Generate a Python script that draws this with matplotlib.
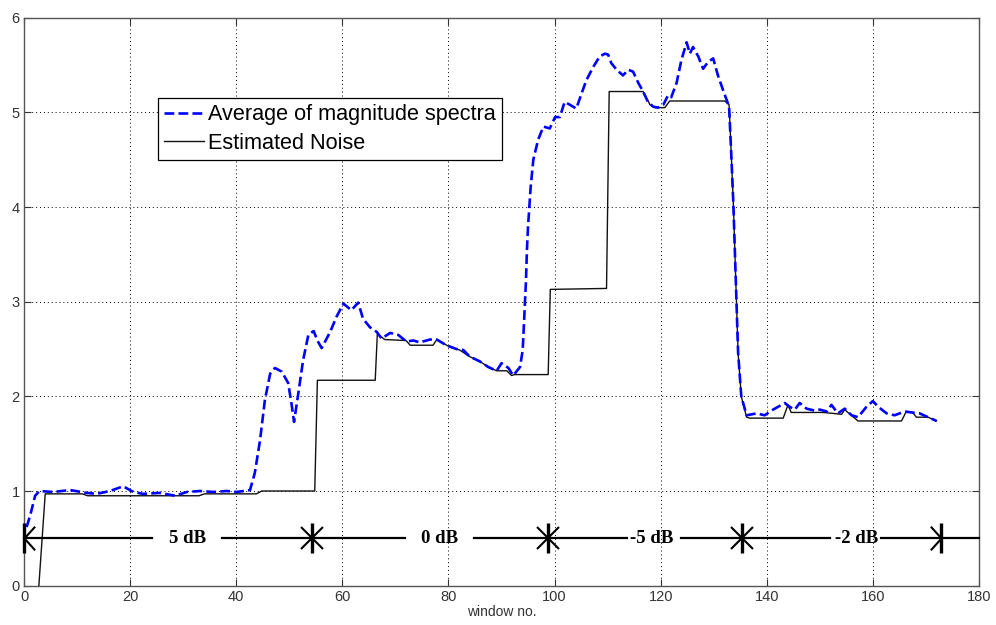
import matplotlib
matplotlib.use("Agg")
import matplotlib.pyplot as plt
from matplotlib.path import Path

# Average of magnitude spectra (blue dashed)
avg_x = [0.5, 1.2, 2.1, 2.9, 5.5, 8.7, 11.8, 13.7, 16.2, 18.7, 20.6, 22.4, 25.6, 28.5, 30.7,
         33.2, 35.7, 38.2, 40.1, 42.6, 43.5, 44.5, 45.4, 46.4, 47.3, 48.6, 49.8, 50.4, 50.9,
         51.7, 52.6, 53.6, 54.6, 55.3, 56.1, 57.7, 58.9, 60.2, 61.7, 63.0, 63.9, 65.2, 66.5,
         67.4, 69.0, 70.5, 72.1, 73.4, 74.6, 76.5, 77.8, 79.6, 81.5, 82.8, 84.0, 85.9, 87.5,
         89.1, 90.0, 91.3, 92.2, 93.5, 94.0, 94.3, 94.6, 94.8, 95.0, 95.5, 96.0, 96.9, 97.9,
         99.1, 100.1, 101.0, 101.9, 102.9, 104.1, 105.1, 106.0, 107.3, 108.5, 109.5, 110.1,
         110.7, 111.7, 112.9, 113.9, 114.8, 115.8, 116.7, 117.6, 118.6, 119.5, 120.5, 121.4,
         122.0, 123.0, 123.9, 124.9, 125.5, 126.1, 127.1, 128.0, 128.9, 129.9, 130.8, 131.8,
         132.9, 133.3, 133.7, 134.0, 134.3, 134.6, 135.2, 136.2, 138.1, 139.6, 141.2, 143.4,
         144.3, 145.3, 146.2, 147.5, 149.0, 150.0, 151.3, 152.2, 153.4, 154.7, 156.0, 157.2,
         158.8, 160.0, 161.0, 162.6, 164.1, 166.0, 167.3, 168.8, 170.4, 172.0]
avg_y = [0.62, 0.75, 0.95, 1.0, 0.99, 1.01, 0.98, 0.97, 1.0, 1.05, 0.99, 0.97, 0.98, 0.95, 0.99,
         1.0, 0.99, 1.0, 0.99, 1.01, 1.19, 1.54, 1.96, 2.24, 2.30, 2.26, 2.14, 1.93, 1.73,
         2.03, 2.38, 2.65, 2.69, 2.59, 2.51, 2.68, 2.84, 2.98, 2.91, 2.99, 2.82, 2.73, 2.68,
         2.61, 2.67, 2.65, 2.58, 2.59, 2.57, 2.60, 2.60, 2.54, 2.50, 2.49, 2.42, 2.37, 2.31,
         2.27, 2.35, 2.30, 2.22, 2.31, 2.49, 2.84, 3.20, 3.55, 3.79, 4.21, 4.50, 4.71, 4.85,
         4.83, 4.95, 4.95, 5.11, 5.08, 5.04, 5.20, 5.34, 5.48, 5.59, 5.62, 5.61,
         5.52, 5.45, 5.39, 5.45, 5.43, 5.31, 5.22, 5.11, 5.06, 5.05, 5.08, 5.18,
         5.16, 5.31, 5.55, 5.74, 5.62, 5.69, 5.59, 5.46, 5.53, 5.57, 5.39, 5.23,
         5.06, 4.57, 4.04, 3.51, 2.98, 2.46, 2.00, 1.80, 1.82, 1.80, 1.86, 1.93,
         1.89, 1.86, 1.93, 1.87, 1.85, 1.86, 1.84, 1.91, 1.82, 1.87, 1.80, 1.78,
         1.89, 1.95, 1.89, 1.82, 1.80, 1.84, 1.83, 1.82, 1.78, 1.74]

# Estimated noise (black)
noise_x = [2.8, 4.0, 11.0, 12.0, 33.0, 34.0, 43.8, 44.8, 54.8, 55.3, 66.2, 66.6, 68.0, 72.0,
           72.8, 77.1, 77.8, 80.3, 82.1, 84.0, 85.9, 87.8, 89.1, 91.0, 91.9, 92.5, 98.8, 99.2,
           109.8, 110.3, 116.7, 118.0, 118.9, 120.8, 121.7, 132.1, 132.9, 133.3, 133.7, 134.0,
           134.3, 134.6, 135.2, 136.2, 136.8, 143.1, 144.0, 144.6, 150.6, 152.5, 154.1, 154.7,
           155.3, 157.2, 165.4, 166.3, 167.5, 168.2, 170.4, 172.0]
noise_y = [0.0, 0.97, 0.97, 0.95, 0.95, 0.97, 0.97, 1.0, 1.0, 2.17, 2.17, 2.66, 2.60, 2.59,
           2.54, 2.54, 2.60, 2.52, 2.49, 2.42, 2.37, 2.30, 2.27, 2.27, 2.22, 2.23, 2.23, 3.13,
           3.14, 5.22, 5.22, 5.08, 5.05, 5.05, 5.12, 5.12, 5.08, 4.57, 4.04, 3.51,
           2.98, 2.46, 2.00, 1.78, 1.77, 1.77, 1.91, 1.83, 1.83, 1.82, 1.81, 1.86,
           1.83, 1.74, 1.74, 1.84, 1.83, 1.78, 1.78, 1.74]

# SNR segments along the bottom
seg_labels = ["5 dB", "0 dB", "-5 dB", "-2 dB"]
seg_label_x = [30.9, 78.3, 118.3, 157.0]
seg_bounds = [0.0, 54.2, 98.7, 135.3, 172.8]
line_pieces = [(0, 24.1), (37.4, 71.8), (84.8, 113.6), (123.9, 151.9), (161.6, 180)]
seg_y = 0.5

plt.rcParams['font.family'] = ['Liberation Sans', 'DejaVu Sans']

fig = plt.figure(figsize=(9.96, 6.25), dpi=100)
ax = fig.add_axes([0.0241, 0.0629, 0.9588, 0.9088])

ax.plot(avg_x, avg_y, color='#0000ff', linestyle='--', linewidth=1.9,
        label='Average of magnitude spectra', zorder=4)
ax.plot(noise_x, noise_y, color='#111111', linewidth=1.0,
        label='Estimated Noise', zorder=3)

# bottom annotation
for a, b in line_pieces:
    ax.plot([a, b], [seg_y, seg_y], color='k', linewidth=1.6, zorder=5, clip_on=False)
for lab, xx in zip(seg_labels, seg_label_x):
    ax.text(xx, seg_y, lab, ha='center', va='center', fontsize=13.5,
            fontweight='bold', family='Liberation Serif', zorder=6)

ax.plot(seg_bounds, [seg_y] * len(seg_bounds), linestyle='none', marker='|',
        markersize=22, markeredgewidth=2.4, color='k', zorder=6, clip_on=False)
ax.plot(seg_bounds[1:-1], [seg_y] * 3, linestyle='none', marker='x',
        markersize=16, markeredgewidth=1.5, color='k', zorder=6)
left_arrow = Path([(0.9, 1.0), (0.0, 0.0), (0.9, -1.0)],
                  [Path.MOVETO, Path.LINETO, Path.LINETO])
right_arrow = Path([(-0.9, 1.0), (0.0, 0.0), (-0.9, -1.0)],
                   [Path.MOVETO, Path.LINETO, Path.LINETO])
ax.plot([seg_bounds[0]], [seg_y], linestyle='none', marker=left_arrow,
        markersize=17, markeredgewidth=1.5, markerfacecolor='none', color='k',
        zorder=6, clip_on=False)
ax.plot([seg_bounds[-1]], [seg_y], linestyle='none', marker=right_arrow,
        markersize=17, markeredgewidth=1.5, markerfacecolor='none', color='k',
        zorder=6, clip_on=False)

ax.set_xlim(0, 180)
ax.set_ylim(0, 6)
ax.set_xticks(range(0, 181, 20))
ax.set_yticks(range(0, 7))
ax.grid(True, color='k', linestyle=(0, (1, 3)), linewidth=0.7)
ax.tick_params(axis='both', which='major', direction='in', length=5, width=0.8,
               top=True, right=True, labelsize=10.5, labelcolor='#333333',
               color='#333333', pad=3)
for s in ax.spines.values():
    s.set_color('#555555')
    s.set_linewidth(1.0)
ax.set_xlabel('window no.', fontsize=10, labelpad=1, color='#333333')

leg = ax.legend(loc='upper left', bbox_to_anchor=(0.140, 0.859), borderaxespad=0,
                fontsize=15.6, handlelength=1.85, handletextpad=0.15,
                borderpad=0.3, labelspacing=0.35, fancybox=False, framealpha=1,
                edgecolor='k')
leg.get_frame().set_linewidth(0.9)

fig.savefig('out.png', dpi=100)
